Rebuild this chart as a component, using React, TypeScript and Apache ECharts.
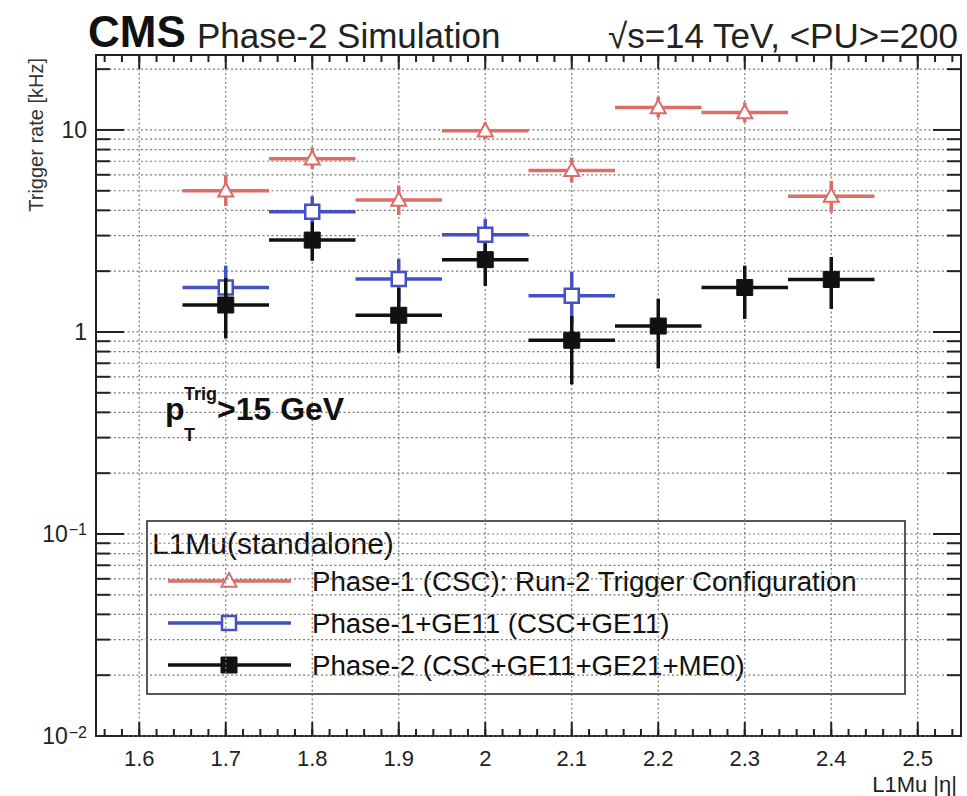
import React, { useEffect, useRef } from "react";
import * as echarts from "echarts";

// ---- data ----
const etaBins = [1.7, 1.8, 1.9, 2.0, 2.1, 2.2, 2.3, 2.4];
const etaHalfWidth = 0.05;

const phase1Rate = [5.0, 7.2, 4.5, 9.9, 6.3, 12.9, 12.2, 4.7];
const phase1Low = [4.2, 6.4, 3.8, 9.0, 5.5, 11.5, 10.9, 3.9];
const phase1High = [6.0, 8.2, 5.3, 10.9, 7.3, 14.6, 13.7, 5.6];

const ge11Eta = [1.7, 1.8, 1.9, 2.0, 2.1];
const ge11Rate = [1.66, 3.94, 1.83, 3.03, 1.51];
const ge11Low = [1.3, 3.45, 1.4, 2.5, 1.1];
const ge11High = [2.13, 4.7, 2.3, 3.62, 1.98];

const phase2Rate = [1.36, 2.85, 1.21, 2.28, 0.91, 1.07, 1.66, 1.82];
const phase2Low = [0.93, 2.25, 0.79, 1.69, 0.55, 0.66, 1.16, 1.3];
const phase2High = [1.85, 3.49, 1.65, 2.75, 1.2, 1.46, 2.13, 2.35];

const xTickLabels = [1.6, 1.7, 1.8, 1.9, 2.0, 2.1, 2.2, 2.3, 2.4, 2.5];
const yDecades = [0.01, 0.1, 1, 10];
const yMultipliers = [1, 2, 3, 4, 5, 6, 7, 8, 9];

const X_MIN = 1.55;
const X_MAX = 2.55;
const Y_MIN = 0.01;
const Y_MAX = 23.5;

const legendTitle = "L1Mu(standalone)";
const legendNames = [
  "Phase-1 (CSC): Run-2 Trigger Configuration",
  "Phase-1+GE11 (CSC+GE11)",
  "Phase-2 (CSC+GE11+GE21+ME0)",
];

const RED = "#dc6d67";
const BLUE = "#4650c6";
const BLACK = "#111111";
const FONT = "Liberation Sans, Arial, Helvetica, sans-serif";

// derived decoration values
const yGridValues: number[] = [];
yDecades.forEach((d) =>
  yMultipliers.forEach((m) => {
    const v = +(d * m).toPrecision(6);
    if (v <= Y_MAX) yGridValues.push(v);
  })
);
const xMinorTicks: number[] = [];
for (let i = 0; i <= 50; i++) {
  const v = +(X_MIN + 0.05 + (i - 2) * 0.02).toFixed(2);
  if (v > X_MIN && v < X_MAX) xMinorTicks.push(v);
}

function isDecade(v: number) {
  const l = Math.log10(v);
  return Math.abs(l - Math.round(l)) < 1e-6;
}

function markerShape(kind: string, cx: number, cy: number, color: string) {
  if (kind === "triangle") {
    const s = 7.5;
    return {
      type: "polygon",
      shape: {
        points: [
          [cx, cy - s * 1.05],
          [cx - s, cy + s * 0.75],
          [cx + s, cy + s * 0.75],
        ],
      },
      style: { fill: "#fff", stroke: color, lineWidth: 2 },
    };
  }
  if (kind === "openSquare") {
    const s = 7;
    return {
      type: "rect",
      shape: { x: cx - s, y: cy - s, width: 2 * s, height: 2 * s },
      style: { fill: "#fff", stroke: color, lineWidth: 2.5 },
    };
  }
  const s = 8;
  return {
    type: "rect",
    shape: { x: cx - s, y: cy - s, width: 2 * s, height: 2 * s },
    style: { fill: color, stroke: color, lineWidth: 1 },
  };
}

function errorSeries(
  name: string,
  xs: number[],
  rates: number[],
  lows: number[],
  highs: number[],
  color: string,
  marker: string,
  z: number
) {
  return {
    type: "custom",
    name,
    z,
    silent: true,
    clip: false,
    data: rates.map((r, i) => [xs[i], r, lows[i], highs[i]]),
    renderItem: (_params: any, api: any) => {
      const x = api.value(0);
      const y = api.value(1);
      const c = api.coord([x, y]);
      const l = api.coord([x - etaHalfWidth, y]);
      const r = api.coord([x + etaHalfWidth, y]);
      const lo = api.coord([x, api.value(2)]);
      const hi = api.coord([x, api.value(3)]);
      return {
        type: "group",
        children: [
          {
            type: "line",
            shape: { x1: l[0], y1: l[1], x2: r[0], y2: r[1] },
            style: { stroke: color, lineWidth: 3.5 },
          },
          {
            type: "line",
            shape: { x1: c[0], y1: hi[1], x2: c[0], y2: lo[1] },
            style: { stroke: color, lineWidth: 3.5 },
          },
          markerShape(marker, c[0], c[1], color),
        ],
      };
    },
  };
}

export default function App() {
  const ref = useRef<HTMLDivElement>(null);

  useEffect(() => {
    if (!ref.current) return;
    const chart = echarts.init(ref.current, null, { renderer: "svg" });

    const yGridSeries = {
      type: "custom",
      silent: true,
      z: 1,
      data: yGridValues.map((v) => [X_MIN, v]),
      renderItem: (params: any, api: any) => {
        const cs = params.coordSys;
        const v = api.value(1);
        const y = api.coord([X_MIN, v])[1];
        const tl = isDecade(v) ? 28 : 14;
        return {
          type: "group",
          children: [
            {
              type: "line",
              shape: { x1: cs.x, y1: y, x2: cs.x + cs.width, y2: y },
              style: { stroke: "#7a7a7a", lineWidth: 1.2, lineDash: [2, 2.5] },
            },
            {
              type: "line",
              shape: { x1: cs.x, y1: y, x2: cs.x + tl, y2: y },
              style: { stroke: "#222", lineWidth: 2 },
            },
            {
              type: "line",
              shape: { x1: cs.x + cs.width - tl, y1: y, x2: cs.x + cs.width, y2: y },
              style: { stroke: "#222", lineWidth: 2 },
            },
          ],
        };
      },
    };

    const xGridSeries = {
      type: "custom",
      silent: true,
      z: 1,
      data: xTickLabels.map((v) => [v, Y_MIN]),
      renderItem: (params: any, api: any) => {
        const cs = params.coordSys;
        const x = api.coord([api.value(0), Y_MIN])[0];
        const tl = 14;
        return {
          type: "group",
          children: [
            {
              type: "line",
              shape: { x1: x, y1: cs.y, x2: x, y2: cs.y + cs.height },
              style: { stroke: "#7a7a7a", lineWidth: 1.2, lineDash: [2, 2.5] },
            },
            {
              type: "line",
              shape: { x1: x, y1: cs.y + cs.height, x2: x, y2: cs.y + cs.height - tl },
              style: { stroke: "#222", lineWidth: 2 },
            },
            {
              type: "line",
              shape: { x1: x, y1: cs.y, x2: x, y2: cs.y + tl },
              style: { stroke: "#222", lineWidth: 2 },
            },
          ],
        };
      },
    };

    const xMinorSeries = {
      type: "custom",
      silent: true,
      z: 1,
      data: xMinorTicks.map((v) => [v, Y_MIN]),
      renderItem: (params: any, api: any) => {
        const cs = params.coordSys;
        const x = api.coord([api.value(0), Y_MIN])[0];
        const tl = 7;
        return {
          type: "group",
          children: [
            {
              type: "line",
              shape: { x1: x, y1: cs.y + cs.height, x2: x, y2: cs.y + cs.height - tl },
              style: { stroke: "#222", lineWidth: 2 },
            },
            {
              type: "line",
              shape: { x1: x, y1: cs.y, x2: x, y2: cs.y + tl },
              style: { stroke: "#222", lineWidth: 2 },
            },
          ],
        };
      },
    };

    const legendColors = [RED, BLUE, BLACK];
    const legendMarkers = ["triangle", "openSquare", "filled"];
    const legendRowY = [581, 623, 665];

    const legendChildren: any[] = [
      {
        type: "rect",
        shape: { x: 147, y: 521, width: 758, height: 173 },
        style: { fill: "#fff", stroke: "#222", lineWidth: 1.5 },
      },
      {
        type: "text",
        x: 152,
        y: 543,
        style: {
          text: legendTitle,
          fontSize: 30,
          fontFamily: FONT,
          fill: "#111",
          align: "left",
          verticalAlign: "middle",
        },
      },
    ];
    legendNames.forEach((nm, i) => {
      const y = legendRowY[i];
      legendChildren.push(
        {
          type: "line",
          shape: { x1: 168, y1: y, x2: 291, y2: y },
          style: { stroke: legendColors[i], lineWidth: 3.5 },
        },
        markerShape(legendMarkers[i], 229, y, legendColors[i]),
        {
          type: "text",
          x: 312,
          y: y,
          style: {
            text: nm,
            fontSize: 27.7,
            fontFamily: FONT,
            fill: "#111",
            align: "left",
            verticalAlign: "middle",
          },
        }
      );
    });

    const option: any = {
      animation: false,
      backgroundColor: "#fff",
      grid: {
        left: 96,
        right: 6,
        top: 55,
        bottom: 60,
        show: true,
        borderColor: "#222",
        borderWidth: 2,
        backgroundColor: "transparent",
      },
      xAxis: {
        type: "value",
        min: X_MIN,
        max: X_MAX,
        axisLine: { show: false },
        axisTick: { show: false },
        splitLine: { show: false },
        axisLabel: {
          customValues: xTickLabels,
          fontSize: 22,
          fontFamily: FONT,
          color: "#222",
          margin: 11,
        },
        name: "L1Mu |η|",
        nameLocation: "end",
        nameGap: -4,
        nameTextStyle: {
          fontSize: 22,
          fontFamily: FONT,
          color: "#222",
          align: "right",
          verticalAlign: "top",
          padding: [37, 0, 0, 0],
        },
      },
      yAxis: {
        type: "log",
        logBase: 10,
        min: Y_MIN,
        max: Y_MAX,
        axisLine: { show: false },
        axisTick: { show: false },
        splitLine: { show: false },
        axisLabel: {
          fontSize: 23,
          fontFamily: FONT,
          color: "#222",
          margin: 9,
          formatter: (v: number) => {
            if (!isDecade(v)) return "";
            const e = Math.round(Math.log10(v));
            if (e === 0) return "{b|1}";
            if (e === 1) return "{b|10}";
            return "{b|10}{s|−" + -e + "}";
          },
          rich: {
            b: { fontSize: 23, fontFamily: FONT, color: "#222", lineHeight: 24 },
            s: {
              fontSize: 16,
              fontFamily: FONT,
              color: "#222",
              verticalAlign: "top",
              lineHeight: 14,
              padding: [0, 0, 10, 1],
            },
          },
        },
      },
      graphic: [
        {
          type: "text",
          x: 88,
          y: 31,
          style: {
            text: "CMS",
            fontSize: 44,
            fontWeight: "bold",
            fontFamily: FONT,
            fill: "#111",
            align: "left",
            verticalAlign: "middle",
          },
        },
        {
          type: "text",
          x: 197,
          y: 35,
          style: {
            text: "Phase-2 Simulation",
            fontSize: 35,
            fontFamily: FONT,
            fill: "#222",
            align: "left",
            verticalAlign: "middle",
          },
        },
        {
          type: "text",
          x: 958,
          y: 35,
          style: {
            text: "√s=14 TeV, <PU>=200",
            fontSize: 35,
            fontFamily: FONT,
            fill: "#222",
            align: "right",
            verticalAlign: "middle",
          },
        },
        {
          type: "text",
          x: 36,
          y: 58,
          rotation: Math.PI / 2,
          style: {
            text: "Trigger rate [kHz]",
            fontSize: 20,
            fontFamily: FONT,
            fill: "#333",
            align: "right",
            verticalAlign: "middle",
          },
        },
        {
          type: "text",
          x: 165,
          y: 409,
          z: 50,
          style: {
            text: "p",
            fontSize: 32,
            fontWeight: "bold",
            fontFamily: FONT,
            fill: "#111",
            align: "left",
            verticalAlign: "middle",
          },
        },
        {
          type: "text",
          x: 184,
          y: 394,
          z: 50,
          style: {
            text: "Trig",
            fontSize: 18,
            fontWeight: "bold",
            fontFamily: FONT,
            fill: "#111",
            align: "left",
            verticalAlign: "middle",
          },
        },
        {
          type: "text",
          x: 184,
          y: 435,
          z: 50,
          style: {
            text: "T",
            fontSize: 18,
            fontWeight: "bold",
            fontFamily: FONT,
            fill: "#111",
            align: "left",
            verticalAlign: "middle",
          },
        },
        {
          type: "text",
          x: 217,
          y: 409,
          z: 50,
          style: {
            text: ">15 GeV",
            fontSize: 32,
            fontWeight: "bold",
            fontFamily: FONT,
            fill: "#111",
            align: "left",
            verticalAlign: "middle",
          },
        },
        {
          type: "group",
          z: 100,
          children: legendChildren,
        },
      ],
      series: [
        yGridSeries,
        xGridSeries,
        xMinorSeries,
        errorSeries(legendNames[0], etaBins, phase1Rate, phase1Low, phase1High, RED, "triangle", 5),
        errorSeries(legendNames[1], ge11Eta, ge11Rate, ge11Low, ge11High, BLUE, "openSquare", 6),
        errorSeries(legendNames[2], etaBins, phase2Rate, phase2Low, phase2High, BLACK, "filled", 7),
      ],
    };

    chart.setOption(option);
    return () => chart.dispose();
  }, []);

  return (
    <div
      ref={ref}
      style={{ position: "absolute", left: 0, top: 0, width: 967, height: 796 }}
    />
  );
}
